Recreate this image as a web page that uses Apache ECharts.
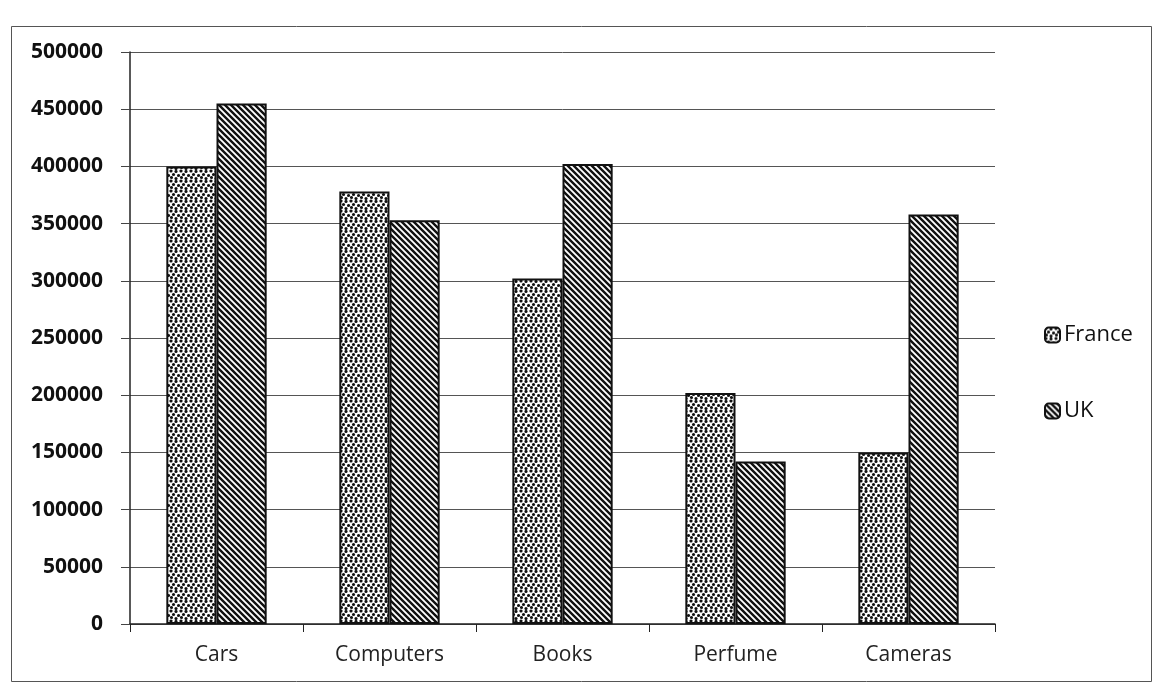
<!DOCTYPE html>
<html><head><meta charset="utf-8">
<script src="https://cdn.jsdelivr.net/npm/echarts@6/dist/echarts.min.js"></script>
<style>html,body{margin:0;padding:0;background:#fff}#c{width:1157px;height:685px}</style>
</head><body><div id="c"></div>
<script>
const categories = ['Cars', 'Computers', 'Books', 'Perfume', 'Cameras'];
const franceValues = [400000, 378000, 302000, 202000, 150000];
const ukValues = [455000, 353000, 402000, 142000, 358000];
const seriesNames = ['France', 'UK'];

function dotPattern() {
  const c = document.createElement('canvas');
  c.width = 10; c.height = 10;
  const g = c.getContext('2d');
  g.fillStyle = '#fff'; g.fillRect(0, 0, 10, 10);
  g.fillStyle = '#111';
  const pts = [[1,1],[6,1.5],[3.5,4.5],[8.5,5.5],[1.5,7.5],[6,8.5],[11,1],[-4,1.5],[-1.5,5.5],[11.5,7.5],[1,11],[6,11.5],[1,-2.5],[6,-1.5]];
  pts.forEach(p => { g.beginPath(); g.arc(p[0], p[1], 1.55, 0, Math.PI*2); g.fill(); });
  return c;
}
function hatchPattern() {
  const s = 6;
  const c = document.createElement('canvas');
  c.width = s; c.height = s;
  const g = c.getContext('2d');
  g.fillStyle = '#fff'; g.fillRect(0, 0, s, s);
  g.strokeStyle = '#111'; g.lineWidth = 2.4;
  g.beginPath();
  g.moveTo(-s, 0); g.lineTo(s, 2*s);
  g.moveTo(0, 0); g.lineTo(s, s);
  g.moveTo(0, -s); g.lineTo(2*s, s);
  g.stroke();
  return c;
}
const dots = dotPattern(), hatch = hatchPattern();

const chart = echarts.init(document.getElementById('c'));
chart.setOption({
  animation: false,
  backgroundColor: '#fff',
  graphic: [{
    type: 'rect', left: 9, top: 24, shape: { width: 1140, height: 655 },
    style: { fill: 'none', stroke: '#555', lineWidth: 1 }, silent: true
  }],
  grid: { left: 130, right: 162, top: 52, bottom: 61 },
  legend: {
    orient: 'vertical', left: 1039, top: 319, itemGap: 54,
    itemWidth: 15, itemHeight: 15,
    textStyle: { fontFamily: 'Open Sans', fontSize: 22, color: '#111', padding: [0,0,0,-1] },
    data: seriesNames
  },
  xAxis: {
    type: 'category', data: categories,
    axisLine: { lineStyle: { color: '#222', width: 1.5 } },
    axisTick: { show: true, length: 8, lineStyle: { color: '#222' } },
    axisLabel: { fontFamily: 'Open Sans', fontSize: 21, color: '#222', margin: 21 }
  },
  yAxis: {
    type: 'value', min: 0, max: 500000, interval: 50000,
    axisLine: { show: true, lineStyle: { color: '#222', width: 1.5 } },
    axisTick: { show: true, length: 9, lineStyle: { color: '#444' } },
    axisLabel: { fontFamily: 'Open Sans', fontWeight: 'bold', fontSize: 21, color: '#111', margin: 27,
      formatter: v => String(v) },
    splitLine: { lineStyle: { color: '#555', width: 1 } }
  },
  series: [
    { name: seriesNames[0], type: 'bar', data: franceValues, barGap: '0%', barCategoryGap: '42%',
      itemStyle: { color: { image: dots, repeat: 'repeat' }, borderColor: '#111', borderWidth: 2 } },
    { name: seriesNames[1], type: 'bar', data: ukValues,
      itemStyle: { color: { image: hatch, repeat: 'repeat' }, borderColor: '#111', borderWidth: 2 } }
  ]
});
</script></body></html>
